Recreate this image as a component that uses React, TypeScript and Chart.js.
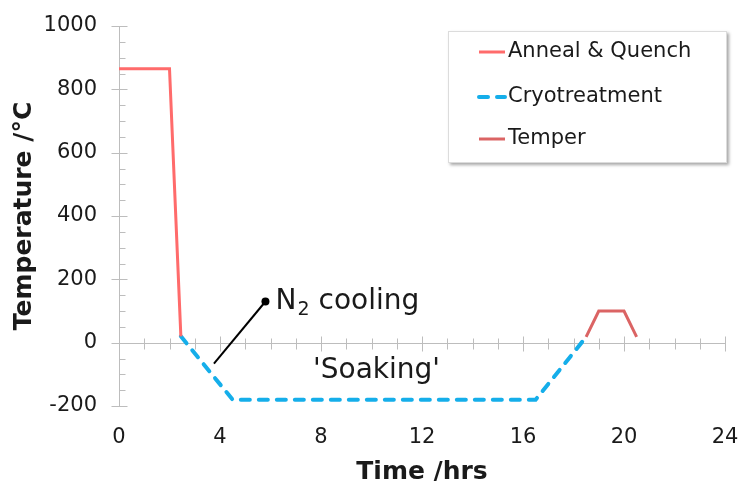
import React, { useEffect, useRef } from "react";
import { Chart, registerables } from "chart.js";

Chart.register(...registerables);

// ---- data ----
const annealTime = [0, 2, 2.45];
const annealTemp = [865, 865, 20];
const cryoTime = [2.45, 4.5, 16.5, 18.5];
const cryoTemp = [20, -180, -180, 18];
const temperTime = [18.5, 19, 20, 20.5];
const temperTemp = [18, 100, 100, 18];
const seriesNames = ["Anneal & Quench", "Cryotreatment", "Temper"];
const xTickValues = [0, 4, 8, 12, 16, 20, 24];
const yTickValues = [-200, 0, 200, 400, 600, 800, 1000];
const xMinorStep = 1;
const yMinorStep = 50;
const xTitle = "Time /hrs";
const yTitle = "Temperature /°C";
const n2Pointer = [
  { x: 3.76, y: -66 },
  { x: 5.8, y: 130 },
];
const n2Label = { x: 6.2, y: 128 };
const soakLabel = { x: 10.2, y: -88, text: "'Soaking'" };

const FONT = "'DejaVu Sans', sans-serif";
const TEXT = "#1a1a1a";
const AXIS = "#bdbdbd";
const C_ANNEAL = "#ff6b6b";
const C_CRYO = "#15aeea";
const C_TEMPER = "#db6464";

const toPts = (xs: number[], ys: number[]) => xs.map((x, i) => ({ x, y: ys[i] }));

const decorPlugin = {
  id: "decor",
  beforeDatasetsDraw(chart: any) {
    const { ctx, chartArea, scales } = chart;
    const xs = scales.x;
    const ys = scales.y;
    const y0 = Math.round(ys.getPixelForValue(0)) + 0.5;
    const left = Math.round(chartArea.left) + 0.5;
    ctx.save();
    ctx.strokeStyle = AXIS;
    ctx.lineWidth = 1;
    ctx.beginPath();
    ctx.moveTo(left, ys.getPixelForValue(ys.max));
    ctx.lineTo(left, ys.getPixelForValue(ys.min));
    ctx.moveTo(chartArea.left, y0);
    ctx.lineTo(xs.getPixelForValue(xs.max), y0);
    for (let h = xs.min + xMinorStep; h <= xs.max + 1e-9; h += xMinorStep) {
      const px = Math.round(xs.getPixelForValue(h)) + 0.5;
      const major = xTickValues.includes(h);
      ctx.moveTo(px, y0 - (major ? 7 : 5));
      ctx.lineTo(px, y0 + (major ? 8 : 6));
    }
    for (let v = ys.min; v <= ys.max + 1e-9; v += yMinorStep) {
      const py = Math.round(ys.getPixelForValue(v)) + 0.5;
      const major = yTickValues.includes(v);
      if (major) {
        ctx.moveTo(left - 8, py);
        ctx.lineTo(left + 8, py);
      } else {
        ctx.moveTo(left, py);
        ctx.lineTo(left + 6, py);
      }
    }
    ctx.stroke();
    ctx.restore();
  },
  afterDatasetsDraw(chart: any) {
    const { ctx, scales } = chart;
    const xs = scales.x;
    const ys = scales.y;
    ctx.save();
    const a = n2Pointer[0];
    const b = n2Pointer[1];
    const ax = xs.getPixelForValue(a.x);
    const ay = ys.getPixelForValue(a.y);
    const bx = xs.getPixelForValue(b.x);
    const by = ys.getPixelForValue(b.y);
    ctx.strokeStyle = "#000";
    ctx.lineWidth = 2;
    ctx.beginPath();
    ctx.moveTo(ax, ay);
    ctx.lineTo(bx, by);
    ctx.stroke();
    ctx.fillStyle = "#000";
    ctx.beginPath();
    ctx.arc(bx, by, 4, 0, Math.PI * 2);
    ctx.fill();

    ctx.fillStyle = TEXT;
    ctx.textBaseline = "middle";
    ctx.textAlign = "left";
    let tx = xs.getPixelForValue(n2Label.x);
    const ty = ys.getPixelForValue(n2Label.y);
    ctx.font = `28px ${FONT}`;
    ctx.fillText("N", tx, ty);
    tx += ctx.measureText("N").width;
    ctx.font = `19px ${FONT}`;
    ctx.fillText("2", tx + 1, ty + 8);
    tx += ctx.measureText("2").width + 1;
    ctx.font = `28px ${FONT}`;
    ctx.fillText(" cooling", tx, ty);

    ctx.textAlign = "center";
    ctx.fillText(soakLabel.text, xs.getPixelForValue(soakLabel.x), ys.getPixelForValue(soakLabel.y));
    ctx.restore();
  },
  afterDraw(chart: any) {
    const { ctx, chartArea } = chart;
    const bx = chartArea.right - 277;
    const by = chartArea.top + 5;
    const bw = 279;
    const bh = 132;
    ctx.save();
    ctx.shadowColor = "rgba(0,0,0,0.35)";
    ctx.shadowBlur = 3;
    ctx.shadowOffsetX = 2;
    ctx.shadowOffsetY = 2;
    ctx.fillStyle = "#fff";
    ctx.fillRect(bx, by, bw, bh);
    ctx.shadowColor = "transparent";
    ctx.strokeStyle = "#dcdcdc";
    ctx.lineWidth = 1;
    ctx.strokeRect(bx + 0.5, by + 0.5, bw - 1, bh - 1);
    const rows = [21, 66, 108];
    chart.data.datasets.forEach((ds: any, i: number) => {
      const ry = by + rows[i];
      ctx.strokeStyle = ds.borderColor;
      ctx.lineWidth = ds.borderWidth;
      ctx.lineCap = ds.borderCapStyle || "butt";
      ctx.setLineDash(ds.borderDash || []);
      ctx.beginPath();
      ctx.moveTo(bx + 31, ry);
      ctx.lineTo(bx + 57, ry);
      ctx.stroke();
      ctx.setLineDash([]);
      ctx.fillStyle = TEXT;
      ctx.font = `21px ${FONT}`;
      ctx.textAlign = "left";
      ctx.textBaseline = "middle";
      ctx.fillText(ds.label, bx + 60, ry);
    });
    ctx.restore();
  },
};

export default function App() {
  const ref = useRef<HTMLCanvasElement | null>(null);

  useEffect(() => {
    if (!ref.current) return;
    const chart = new Chart(ref.current, {
      type: "scatter",
      data: {
        datasets: [
          {
            label: seriesNames[0],
            data: toPts(annealTime, annealTemp),
            showLine: true,
            borderColor: C_ANNEAL,
            backgroundColor: C_ANNEAL,
            borderWidth: 3,
            pointRadius: 0,
          },
          {
            label: seriesNames[1],
            data: toPts(cryoTime, cryoTemp),
            showLine: true,
            borderColor: C_CRYO,
            backgroundColor: C_CRYO,
            borderWidth: 4,
            borderDash: [9, 9],
            borderCapStyle: "round",
            pointRadius: 0,
          },
          {
            label: seriesNames[2],
            data: toPts(temperTime, temperTemp),
            showLine: true,
            borderColor: C_TEMPER,
            backgroundColor: C_TEMPER,
            borderWidth: 3,
            pointRadius: 0,
          },
        ],
      } as any,
      options: {
        animation: false,
        responsive: true,
        maintainAspectRatio: false,
        layout: { padding: { top: 26, right: 15, bottom: 0, left: 0 } },
        plugins: {
          legend: { display: false },
          tooltip: { enabled: false },
        },
        scales: {
          x: {
            type: "linear",
            min: 0,
            max: 24,
            position: "bottom",
            grid: { display: false, drawTicks: true, tickLength: 19 },
            border: { display: false },
            afterBuildTicks: (s: any) => {
              s.ticks = xTickValues.map((v) => ({ value: v }));
            },
            ticks: {
              autoSkip: false,
              maxRotation: 0,
              padding: 0,
              color: TEXT,
              font: { family: FONT, size: 21 },
              callback: (v: any) => String(v),
            },
            title: {
              display: true,
              text: xTitle,
              color: TEXT,
              font: { family: FONT, size: 25, weight: "bold", lineHeight: 0.65 },
              padding: { top: 0, bottom: 0 },
            },
            afterFit: (s: any) => {
              s.height = 75;
            },
          },
          y: {
            type: "linear",
            min: -200,
            max: 1000,
            grid: { display: false, drawTicks: true, tickLength: 22 },
            border: { display: false },
            afterBuildTicks: (s: any) => {
              s.ticks = yTickValues.map((v) => ({ value: v }));
            },
            ticks: {
              autoSkip: false,
              padding: 0,
              color: TEXT,
              font: { family: FONT, size: 21 },
              callback: (v: any) => String(v),
            },
            title: {
              display: true,
              text: yTitle,
              color: TEXT,
              font: { family: FONT, size: 25, weight: "bold" },
              padding: { top: 9, bottom: 0 },
            },
            afterFit: (s: any) => {
              s.width = 119;
            },
          },
        },
      } as any,
      plugins: [decorPlugin],
    });
    return () => chart.destroy();
  }, []);

  return (
    <div style={{ position: "fixed", left: 0, top: 0, width: 740, height: 481, background: "#fff" }}>
      <canvas ref={ref} />
    </div>
  );
}
